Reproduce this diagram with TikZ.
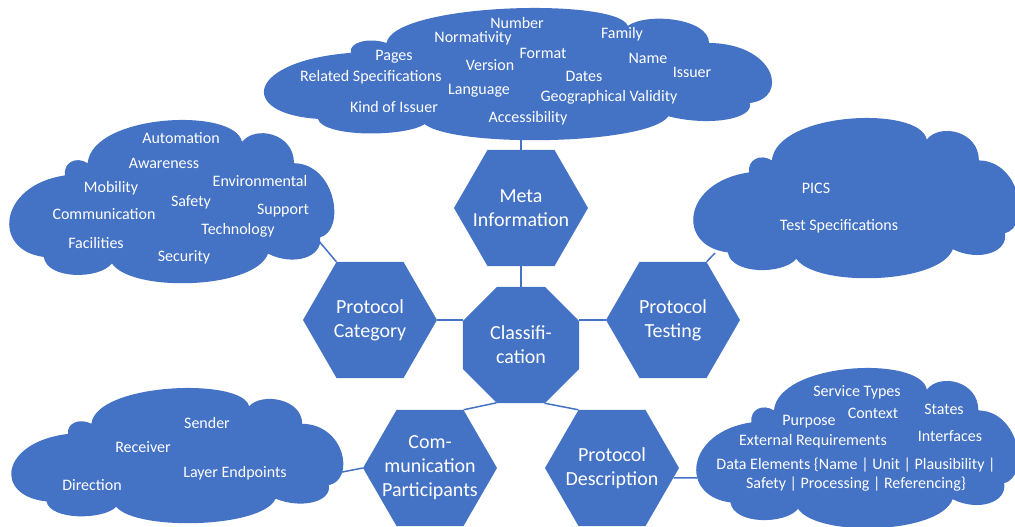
\documentclass[tikz,border=0pt]{standalone}
\usepackage{fontspec}
\setmainfont{Carlito}
\usepackage{tikz}
\usetikzlibrary{shapes.geometric}
\definecolor{ablue}{HTML}{4472C4}
\tikzstyle{hexa}=[regular polygon,regular polygon sides=6,minimum size=134pt,inner sep=0pt,fill=ablue]
\tikzstyle{octa}=[regular polygon,regular polygon sides=8,minimum size=125.6pt,inner sep=0pt,fill=ablue]
\tikzstyle{htext}=[text=white,align=center,font=\fontsize{20}{24}\selectfont]
\tikzstyle{item}=[text=white,inner sep=0pt,align=center,font=\fontsize{16}{19}\selectfont]
\tikzstyle{link}=[draw=ablue,line width=1.5pt]
% cloud outline in a 100 x 100 box
\newcommand{\cloudshape}{(11,84)
  .. controls (-5,80) and (-3,40) .. (17.5,34)
  .. controls (17,26) and (21,22) .. (24.5,26.5)
  .. controls (26,-4) and (70,-8) .. (72,13.5)
  .. controls (76,3) and (88,8) .. (88,26.5)
  .. controls (101,27) and (104,68) .. (96,72)
  .. controls (97,84) and (88,90) .. (80,82)
  .. controls (76,104) and (38,106) .. (32,88)
  .. controls (28,98) and (12,98) .. (11,84) -- cycle}
\newcommand{\cloudat}[4]{%
  \begin{scope}[shift={(#1,#2)},xscale=#3/100,yscale=#4/100]
    \fill[ablue] \cloudshape;
  \end{scope}}

\begin{document}
\begin{tikzpicture}[x=1pt,y=-1pt]
\clip (0,0) rectangle (1015,527);

% clouds
\cloudat{262}{8}{508}{132}
\cloudat{8}{120}{325}{163}
\cloudat{692}{118}{326}{160}
\cloudat{10}{388}{332}{135}
\cloudat{695}{368}{322}{160}

% ends of the links on the clouds
\coordinate (metac) at (521,138);
\coordinate (catc) at (318,240);
\coordinate (testc) at (715,253);
\coordinate (commc) at (337,473);
\coordinate (descc) at (697,478);

% shapes
\node[octa,label={[htext]center:Classifi-\\cation}] (class) at (521,345) {};
\node[hexa,label={[htext]center:Meta\\Information}] (meta) at (521,208) {};
\node[hexa,label={[htext]center:Protocol\\Category}] (cat) at (370,320) {};
\node[hexa,label={[htext]center:Protocol\\Testing}] (test) at (673,320) {};
\node[hexa,label={[htext]center:Com-\\munication\\Participants}] (comm) at (430,468) {};
\node[hexa,label={[htext]center:Protocol\\Description}] (desc) at (612,468) {};

% links
\draw[link] (meta.north) -- (metac);
\draw[link] (meta.south) -- (class.north);
\draw[link] (cat.east) -- (cat.east -| class.west);
\draw[link] (test.west) -- (test.west -| class.east);
\draw[link] (class.247.5) -- (comm.60);
\draw[link] (class.292.5) -- (desc.120);
\draw[link] (cat.120) -- (catc);
\draw[link] (test.60) -- (testc);
\draw[link] (comm.west) -- (commc);
\draw[link] (desc.-9) -- (descc);

% meta information
\node[item] (number) at (517,23) {Number};
\node[item] (normativity) at (473,38) {Normativity};
\node[item] (family) at (622,34) {Family};
\node[item] (format) at (543,53) {Format};
\node[item] (pages) at (394,57) {Pages};
\node[item] (name) at (648,58) {Name};
\node[item] (version) at (490,65) {Version};
\node[item] (related) at (371,77) {Related Specifications};
\node[item] (issuer) at (692,72) {Issuer};
\node[item] (dates) at (584,76) {Dates};
\node[item] (language) at (479,91) {Language};
\node[item] (geo) at (609,97) {Geographical Validity};
\node[item] (kind) at (394,107) {Kind of Issuer};
\node[item] (access) at (528,118) {Accessibility};

% protocol category
\node[item] (automation) at (181,138) {Automation};
\node[item] (awareness) at (164,163) {Awareness};
\node[item] (environmental) at (260,181) {Environmental};
\node[item] (mobility) at (111,188) {Mobility};
\node[item] (safety) at (191,202) {Safety};
\node[item] (communication) at (104,214) {Communication};
\node[item] (support) at (283,211) {Support};
\node[item] (technology) at (238,230) {Technology};
\node[item] (facilities) at (96,243) {Facilities};
\node[item] (security) at (184,257) {Security};

% protocol testing
\node[item] (pics) at (816,188) {PICS};
\node[item] (testspec) at (839,226) {Test Specifications};

% communication participants
\node[item] (sender) at (207,423) {Sender};
\node[item] (receiver) at (143,447) {Receiver};
\node[item] (layer) at (235,473) {Layer Endpoints};
\node[item] (direction) at (92,485) {Direction};

% protocol description
\node[item] (service) at (857,392) {Service Types};
\node[item] (context) at (873,413) {Context};
\node[item] (states) at (944,409) {States};
\node[item] (purpose) at (809,422) {Purpose};
\node[item] (external) at (813,441) {External Requirements};
\node[item] (interfaces) at (950,436) {Interfaces};
\node[item] (data) at (856,475) {Data Elements \{Name | Unit | Plausibility |\\Safety | Processing | Referencing\}};
\end{tikzpicture}
\end{document}
